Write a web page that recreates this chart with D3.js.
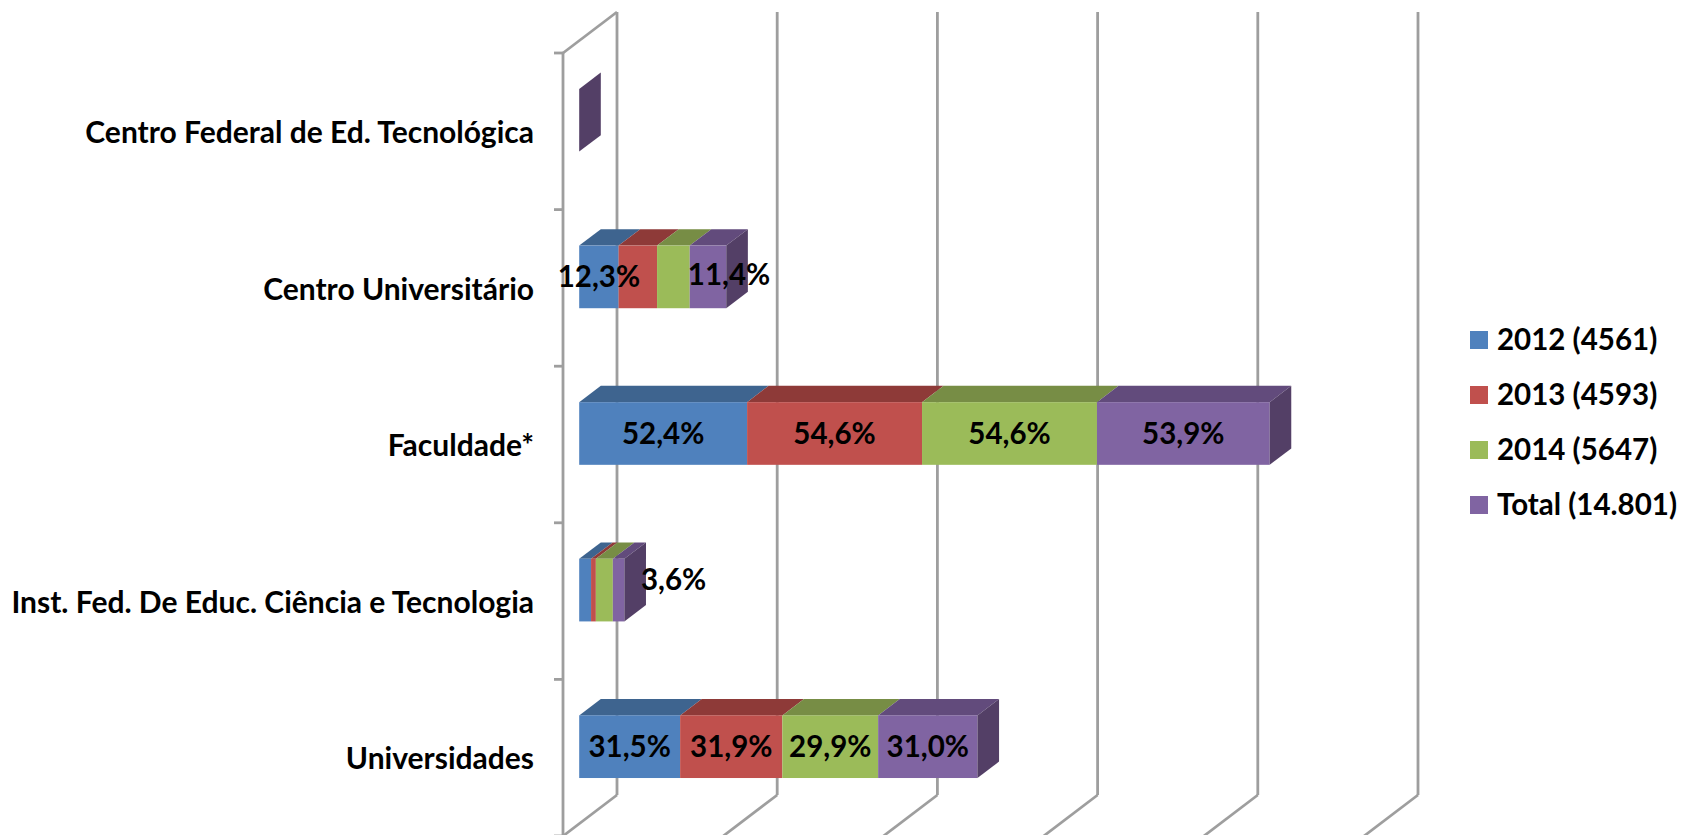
<!DOCTYPE html>
<html>
<head>
<meta charset="utf-8">
<script src="https://cdn.jsdelivr.net/npm/d3@7"></script>
<style>
  body { margin: 0; background: #fff; }
  text { font-family: Lato, "Open Sans", sans-serif; font-weight: 700; fill: #000; }
</style>
</head>
<body>
<div id="chart"></div>
<script>
const categories = ['Centro Federal de Ed. Tecnológica', 'Centro Universitário', 'Faculdade*', 'Inst. Fed. De Educ. Ciência e Tecnologia', 'Universidades']
const seriesNames = ['2012 (4561)', '2013 (4593)', '2014 (5647)', 'Total (14.801)']
const values2012 = [0, 12.3, 52.4, 3.7, 31.5]
const values2013 = [0, 12.0, 54.6, 1.5, 31.9]
const values2014 = [0, 10.2, 54.6, 5.3, 29.9]
const valuesTotal = [0, 11.4, 53.9, 3.6, 31.0]
const xTicks = [0, 50, 100, 150, 200, 250]

const seriesValues = [values2012, values2013, values2014, valuesTotal]
const frontColors = ['#4f81bd', '#c0504d', '#9bbb59', '#8064a2']
const topColors = ['#3e648f', '#8e3a38', '#778d45', '#624b7c']
const sideColor = '#533f66'

const width = 1684
const height = 835
const depthX = 54
const depthY = 41
const barFront = 0.3
const barBack = 0.7
const barLift = 11

const svg = d3.select('#chart').append('svg')
  .attr('width', width)
  .attr('height', height)
  .style('display', 'block')

const x = d3.scaleLinear().domain([0, 250]).range([563, 1364])
const y = d3.scaleBand().domain(categories).range([53, 836])
  .paddingInner(0.6).paddingOuter(0.3)
const step = y.step()

//category band edges for the tick marks
const edges = d3.range(categories.length + 1).map(i => 53 + i * step)

//walls
const wall = svg.append('g')
  .attr('fill', 'none')
  .attr('stroke', '#9e9e9e')
  .attr('stroke-width', 2.8)

xTicks.forEach(t => {
  wall.append('line')
    .attr('x1', x(t) + depthX).attr('x2', x(t) + depthX)
    .attr('y1', 53 - depthY).attr('y2', 836 - depthY)
  wall.append('line')
    .attr('x1', x(t)).attr('x2', x(t) + depthX)
    .attr('y1', 836).attr('y2', 836 - depthY)
})
wall.append('line')
  .attr('x1', x(0)).attr('x2', x(0) + depthX)
  .attr('y1', 53).attr('y2', 53 - depthY)
wall.append('line')
  .attr('x1', x(0)).attr('x2', x(0))
  .attr('y1', 53).attr('y2', 836)
edges.forEach(e => {
  wall.append('line')
    .attr('x1', x(0) - 9).attr('x2', x(0))
    .attr('y1', e).attr('y2', e)
})

//stack the series per category
const rows = categories.map((c, ci) => {
  let sum = 0
  return seriesValues.map((s, si) => {
    const v0 = sum
    sum += s[ci]
    return {c, si, v0, v1: sum, value: s[ci]}
  })
})

function poly(points) {
  return points.map(p => p.join(',')).join(' ')
}

const bars = svg.append('g')
rows.forEach(row => {
  const top = y(row[0].c) - barLift
  const bottom = top + y.bandwidth()
  const offF = barFront * depthX
  const shift = (barBack - barFront)
  const dx = shift * depthX
  const dy = shift * depthY

  row.forEach(d => {
    const a = x(d.v0) + offF
    const b = x(d.v1) + offF
    if (d.value > 0) {
      bars.append('polygon')
        .attr('points', poly([[a, top], [b, top], [b + dx, top - dy], [a + dx, top - dy]]))
        .attr('fill', topColors[d.si])
      bars.append('rect')
        .attr('x', a).attr('y', top)
        .attr('width', b - a).attr('height', bottom - top)
        .attr('fill', frontColors[d.si])
    }
  })

  //only the end of the stack shows its side
  const end = x(row[row.length - 1].v1) + offF
  bars.append('polygon')
    .attr('points', poly([[end, top], [end + dx, top - dy], [end + dx, bottom - dy], [end, bottom]]))
    .attr('fill', sideColor)
})

//data labels, the narrow ones were moved by hand in the original
const labelNudge = {
  'Centro Universitário|0': [0, 0],
  'Centro Universitário|3': [21, -2],
  'Inst. Fed. De Educ. Ciência e Tecnologia|3': [55, -10]
}
const labels = svg.append('g')
  .attr('text-anchor', 'middle')
  .attr('font-size', 29.5)
rows.forEach(row => {
  row.forEach(d => {
    const key = d.c + '|' + d.si
    const big = d.value > 25
    if (!big && !labelNudge[key]) return
    const nudge = labelNudge[key] || [0, 0]
    labels.append('text')
      .attr('x', (x(d.v0) + x(d.v1)) / 2 + barFront * depthX + nudge[0])
      .attr('y', y(d.c) + y.bandwidth() / 2 - barLift + nudge[1])
      .attr('dy', '.35em')
      .text(d.value.toFixed(1).replace('.', ',') + '%')
  })
})

//category labels
const yAxis = d3.axisLeft(y).tickSize(0).tickPadding(0)
const yG = svg.append('g')
  .attr('transform', 'translate(534,2)')
  .call(yAxis)
yG.select('.domain').remove()
yG.selectAll('text')
  .attr('font-size', 30)
  .style('font-family', 'Lato, "Open Sans", sans-serif')

//legend
const legendY = d3.scalePoint().domain(seriesNames).range([340, 505])
const legend = svg.append('g')
seriesNames.forEach((name, i) => {
  legend.append('rect')
    .attr('x', 1470).attr('y', legendY(name) - 9)
    .attr('width', 18).attr('height', 18)
    .attr('fill', frontColors[i])
  legend.append('text')
    .attr('x', 1497).attr('y', legendY(name))
    .attr('dy', '.35em')
    .attr('font-size', 29.5)
    .text(name)
})
</script>
</body>
</html>
